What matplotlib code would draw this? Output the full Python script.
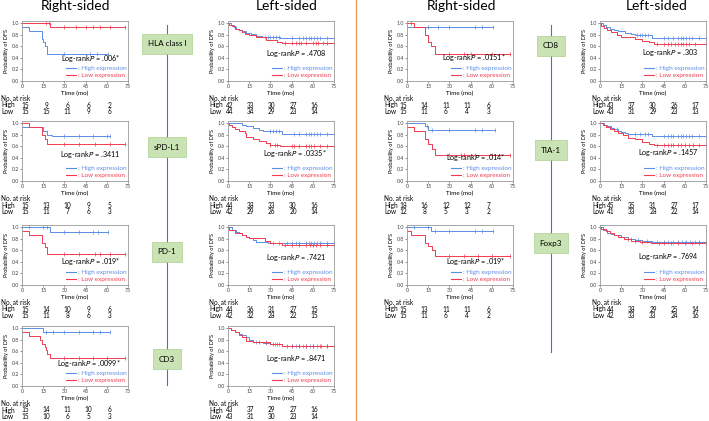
import numpy as np
import matplotlib.pyplot as plt
from matplotlib.lines import Line2D
from matplotlib import transforms

plt.rcParams['font.family'] = ['Lato', 'DejaVu Sans']

W, H = 709, 421
blue = '#5b8ee6'
red = '#f03c50'

times = [0, 15, 30, 45, 60]

# ---- right-sided, left half ----
hla_r_hi = ([0, 5, 14, 15, 16, 18], [0.93, 0.86, 0.73, 0.67, 0.6, 0.47], [30, 48, 53, 61])
hla_r_lo = ([0, 20], [1.0, 0.93], [17, 19, 30, 38, 45, 50, 55, 62, 73])
hla_r_n = ([15, 9, 6, 6, 2], [15, 15, 11, 9, 6])

spd_r_hi = ([0, 15, 18, 21], [0.93, 0.86, 0.8, 0.78], [30, 40, 50, 60, 62])
spd_r_lo = ([0, 5, 14, 16, 18], [1.0, 0.93, 0.8, 0.73, 0.64], [30, 40, 52, 62, 73])
spd_r_n = ([15, 13, 10, 9, 5], [15, 11, 7, 6, 3])

pd1_r_hi = ([0, 20], [1.0, 0.91], [5, 15, 18, 30, 40, 50, 54, 61])
pd1_r_lo = ([0, 5, 14, 16, 18], [0.93, 0.86, 0.73, 0.66, 0.53], [30, 40, 52, 55, 62, 73])
pd1_r_n = ([15, 14, 10, 9, 6], [15, 11, 8, 6, 3])

cd3_r_hi = ([0, 15], [1.0, 0.94], [17, 22, 30, 40, 50, 55, 62])
cd3_r_lo = ([0, 5, 13, 14, 16, 17, 18, 20], [0.93, 0.87, 0.8, 0.73, 0.67, 0.62, 0.55, 0.48], [30, 40, 50, 60, 73])
cd3_r_n = ([15, 14, 11, 10, 6], [15, 10, 6, 5, 3])

# ---- left-sided, left half ----
hla_l_hi = ([0, 2, 4, 6, 8, 10, 13, 16, 20, 24, 37],
            [1.0, 0.97, 0.93, 0.9, 0.88, 0.86, 0.83, 0.81, 0.78, 0.77, 0.74],
            [26, 28, 30, 32, 34, 36, 45, 50, 53, 55, 57, 59, 61, 63, 65, 70, 75])
hla_l_lo = ([0, 1, 3, 5, 8, 10, 12, 15, 20, 27, 35, 38],
            [1.0, 0.97, 0.95, 0.9, 0.88, 0.85, 0.82, 0.8, 0.77, 0.71, 0.68, 0.66],
            [40, 45, 48, 50, 52, 55, 60, 62, 64, 67, 70, 75])
hla_l_n = ([42, 33, 30, 27, 16], [44, 34, 29, 23, 14])

spd_l_hi = ([0, 10, 13, 18, 22, 25, 38],
            [1.0, 0.97, 0.95, 0.92, 0.89, 0.86, 0.81],
            [30, 32, 34, 36, 47, 50, 55, 57, 59, 61, 63, 65, 70, 75])
spd_l_lo = ([0, 1, 3, 5, 8, 12, 13, 18, 22, 27, 30, 37],
            [1.0, 0.97, 0.93, 0.9, 0.86, 0.83, 0.76, 0.72, 0.7, 0.66, 0.63, 0.6],
            [30, 33, 35, 45, 47, 50, 55, 57, 59, 61, 65, 70, 75])
spd_l_n = ([44, 38, 33, 30, 16], [42, 29, 26, 20, 14])

pd1_l_hi = ([0, 3, 6, 8, 10, 13, 15, 18, 20, 28],
            [1.0, 0.95, 0.92, 0.9, 0.87, 0.84, 0.81, 0.78, 0.75, 0.73],
            [32, 36, 42, 45, 48, 50, 55, 57, 59, 61, 63, 65, 70, 75])
pd1_l_lo = ([0, 1, 5, 10, 13, 15, 26, 30, 38],
            [1.0, 0.95, 0.9, 0.87, 0.84, 0.81, 0.76, 0.73, 0.7],
            [40, 45, 50, 55, 58, 60, 62, 65, 70, 75])
pd1_l_n = ([44, 36, 31, 27, 15], [42, 32, 28, 22, 15])

cd3_l_hi = ([0, 2, 5, 8, 10, 13, 15, 18, 25, 30, 38],
            [1.0, 0.97, 0.93, 0.9, 0.88, 0.85, 0.8, 0.77, 0.75, 0.73, 0.7],
            [20, 27, 33, 36, 45, 48, 50, 53, 55, 58, 60, 63, 66, 70, 75])
cd3_l_lo = ([0, 2, 5, 8, 10, 13, 18, 30, 38],
            [1.0, 0.97, 0.93, 0.88, 0.85, 0.78, 0.76, 0.73, 0.7],
            [22, 27, 32, 35, 42, 45, 50, 55, 60, 65, 70, 75])
cd3_l_n = ([43, 37, 29, 27, 16], [43, 31, 30, 23, 14])

# ---- right half ----
cd8_r_hi = ([0], [0.93], [15, 22, 30, 48, 53, 61])
cd8_r_lo = ([0, 5, 13, 15, 17, 20], [1.0, 0.93, 0.8, 0.67, 0.6, 0.47], [3, 30, 40, 45, 60, 73])
cd8_r_n = ([15, 14, 11, 11, 6], [15, 11, 6, 4, 3])

tia_r_hi = ([0, 13, 15], [1.0, 0.95, 0.89], [14, 18, 30, 48, 53, 62])
tia_r_lo = ([0, 5, 13, 15, 18, 20], [0.93, 0.86, 0.72, 0.65, 0.55, 0.45], [30, 38, 40, 48, 60, 73])
tia_r_n = ([18, 16, 12, 12, 7], [12, 8, 5, 3, 2])

fox_r_hi = ([0, 17], [1.0, 0.93], [5, 15, 20, 30, 48, 53, 61])
fox_r_lo = ([0, 3, 13, 15, 18, 20], [0.93, 0.87, 0.73, 0.67, 0.6, 0.5], [30, 40, 50, 60, 73])
fox_r_n = ([15, 13, 11, 11, 6], [15, 11, 6, 4, 2])

cd8_l_hi = ([0, 2, 4, 7, 10, 13, 18, 22, 25, 37],
            [1.0, 0.97, 0.93, 0.9, 0.88, 0.86, 0.84, 0.82, 0.8, 0.75],
            [26, 28, 30, 32, 34, 45, 48, 52, 55, 57, 59, 61, 63, 65, 70, 75])
cd8_l_lo = ([0, 1, 3, 5, 8, 12, 15, 25, 30, 35, 38],
            [1.0, 0.95, 0.92, 0.88, 0.85, 0.8, 0.76, 0.73, 0.7, 0.68, 0.65],
            [40, 45, 48, 50, 53, 55, 57, 59, 61, 63, 67, 75])
cd8_l_n = ([43, 37, 30, 26, 17], [43, 31, 29, 23, 13])

tia_l_hi = ([0, 3, 5, 8, 10, 13, 15, 18, 20, 37],
            [1.0, 0.97, 0.95, 0.92, 0.9, 0.87, 0.85, 0.83, 0.81, 0.78],
            [12, 25, 28, 32, 34, 45, 48, 50, 52, 55, 57, 59, 61, 63, 65, 70, 75])
tia_l_lo = ([0, 2, 4, 7, 10, 13, 16, 20, 25, 30, 35, 38],
            [1.0, 0.97, 0.93, 0.9, 0.87, 0.83, 0.8, 0.75, 0.72, 0.68, 0.65, 0.62],
            [40, 45, 48, 50, 52, 55, 57, 60, 63, 66, 70, 75])
tia_l_n = ([45, 35, 31, 27, 17], [41, 33, 28, 22, 14])

fox_l_hi = ([0, 2, 5, 8, 10, 15, 20, 25, 30, 37],
            [1.0, 0.95, 0.9, 0.88, 0.86, 0.83, 0.8, 0.78, 0.76, 0.74],
            [22, 27, 33, 40, 45, 48, 52, 55, 58, 61, 64, 67, 70, 75])
fox_l_lo = ([0, 1, 4, 7, 10, 13, 17, 22, 28, 36],
            [1.0, 0.97, 0.93, 0.9, 0.87, 0.83, 0.8, 0.77, 0.75, 0.72],
            [20, 25, 30, 42, 45, 50, 55, 60, 65, 70, 75])
fox_l_n = ([44, 38, 29, 25, 14], [42, 33, 33, 24, 16])

fig = plt.figure(figsize=(W / 100, H / 100), dpi=100)


def fr(x0, y0, w, h):
    # pixel box (y from top) -> figure fraction
    return [x0 / W, 1 - (y0 + h) / H, w / W, h / H]


def step_at(t, s, x):
    i = np.searchsorted(t, x, side='right') - 1
    return np.array(s)[i]


def km(ax, t, s, c, col):
    xs = list(t) + [max(c)]
    ys = list(s) + [s[-1]]
    ax.step(xs, ys, where='post', color=col, lw=0.7)
    ax.plot(c, step_at(t, s, c), ls='none', marker='|', ms=2.6, mew=0.5, color=col)


def panel(x0, ybot, hi, lo, p, n, lab_x, py, noff):
    ax = fig.add_axes(fr(x0, ybot - 60, 106, 60))
    km(ax, *hi, blue)
    km(ax, *lo, red)
    ax.set_xlim(0, 75)
    ax.set_ylim(0, 1.04)
    ax.set_xticks([0, 15, 30, 45, 60, 75])
    ax.set_yticks([0, 0.2, 0.4, 0.6, 0.8, 1.0])
    ax.set_yticklabels(['0.0', '0.2', '0.4', '0.6', '0.8', '1.0'])
    ax.tick_params(labelsize=3.8, length=1.2, width=0.4, pad=1, colors='#444444')
    for sp in ax.spines.values():
        sp.set_color('#999999')
        sp.set_linewidth(0.6)
    ax.set_ylabel('Probability of DFS', fontsize=4.0, labelpad=1.5)
    ax.set_xlabel('Time (mo)', fontsize=4.5, labelpad=1)
    ax.text(0.93, py, 'Log-rank$\\it{P}$ = ' + p, transform=ax.transAxes,
            ha='right', va='center', fontsize=5.2)
    ax.legend(handles=[Line2D([], [], color=blue, lw=0.8), Line2D([], [], color=red, lw=0.8)],
              labels=[': High expression', ': Low expression'], labelcolor=[blue, red],
              loc='lower right', frameon=False, fontsize=4.6, handlelength=1.6,
              handletextpad=0.3, labelspacing=0.2, borderaxespad=0.1,
              bbox_to_anchor=(1.02, 0.0))
    # number at risk
    tr = transforms.blended_transform_factory(ax.transData, fig.transFigure)
    fy = lambda y: 1 - y / H
    fs = 4.7
    fig.text(lab_x / W, fy(ybot + 17.5), 'No. at risk', fontsize=fs, va='center')
    fig.text(lab_x / W, fy(ybot + 24), 'High', fontsize=fs, va='center')
    fig.text(lab_x / W, fy(ybot + 30.5), 'Low', fontsize=fs, va='center')
    for k, tm in enumerate(times):
        ax.text(tm + noff, fy(ybot + 24), str(n[0][k]), transform=tr, fontsize=fs,
                ha='center', va='center')
        ax.text(tm + noff, fy(ybot + 30.5), str(n[1][k]), transform=tr, fontsize=fs,
                ha='center', va='center')
    return ax


bots = [81, 181, 285, 386]

panel(22, bots[0], hla_r_hi, hla_r_lo, '.006*', hla_r_n, 1, 0.37, 2)
panel(22, bots[1], spd_r_hi, spd_r_lo, '.3411', spd_r_n, 1, 0.44, 2)
panel(22, bots[2], pd1_r_hi, pd1_r_lo, '.019*', pd1_r_n, 1, 0.39, 2)
panel(22, bots[3], cd3_r_hi, cd3_r_lo, '.0099*', cd3_r_n, 1, 0.38, 2)

panel(228, bots[0], hla_l_hi, hla_l_lo, '.4708', hla_l_n, 209, 0.46, 1)
panel(228, bots[1], spd_l_hi, spd_l_lo, '.0335*', spd_l_n, 209, 0.46, 1)
panel(228, bots[2], pd1_l_hi, pd1_l_lo, '.7421', pd1_l_n, 209, 0.46, 1)
panel(228, bots[3], cd3_l_hi, cd3_l_lo, '.8471', cd3_l_n, 209, 0.46, 1)

panel(407, bots[0], cd8_r_hi, cd8_r_lo, '.0151*', cd8_r_n, 384, 0.39, -2.5)
panel(407, bots[1], tia_r_hi, tia_r_lo, '.014*', tia_r_n, 384, 0.39, -2.5)
panel(407, bots[2], fox_r_hi, fox_r_lo, '.019*', fox_r_n, 384, 0.39, -2.5)

panel(600, bots[0], cd8_l_hi, cd8_l_lo, '.303', cd8_l_n, 592, 0.47, 7.5)
panel(600, bots[1], tia_l_hi, tia_l_lo, '.1457', tia_l_n, 592, 0.47, 7.5)
panel(600, bots[2], fox_l_hi, fox_l_lo, '.7694', fox_l_n, 592, 0.47, 7.5)

# column titles
for x, t in [(75, 'Right-sided'), (287, 'Left-sided'), (462, 'Right-sided'), (657, 'Left-sided')]:
    fig.text(x / W, 1 - 6 / H, t, fontsize=10, ha='center', va='center')

# separators and marker labels
fig.add_artist(Line2D([356 / W, 356 / W], [0, 1], color='#f0a060', lw=1))
fig.add_artist(Line2D([167 / W, 167 / W], [1 - 25 / H, 1 - 385 / H], color='#4472c4', lw=0.8))
fig.add_artist(Line2D([551 / W, 551 / W], [1 - 25 / H, 1 - 352 / H], color='#4472c4', lw=0.8))

box = dict(boxstyle='square,pad=0.75', fc='#c9e3b4', ec='#a9cf8e', lw=0.5)
for x, y, t in [(167, 44, 'HLA class I'), (167, 147, 'sPD-L1'), (167, 252, 'PD-1'), (167, 359, 'CD3'),
                (551, 46, 'CD8'), (551, 150, 'TIA-1'), (551, 243, 'Foxp3')]:
    fig.text(x / W, 1 - y / H, t, fontsize=5.8, ha='center', va='center', bbox=box)

plt.savefig('out.png', dpi=100)
